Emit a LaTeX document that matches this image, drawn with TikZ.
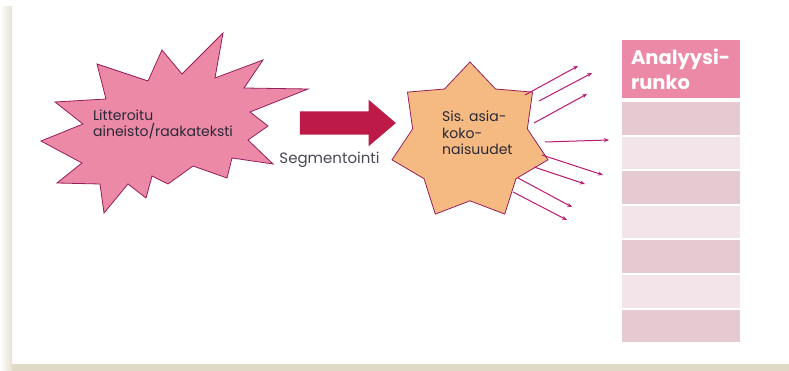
\documentclass[tikz,border=0pt]{standalone}
\usepackage{fontspec}
\setmainfont{Poppins}
\usepackage{tikz}
\usepackage{xcolor}
\usetikzlibrary{positioning, arrows.meta, shapes.geometric, shapes.arrows}
\definecolor{burstpink}{RGB}{236, 137, 166}
\definecolor{burstline}{RGB}{150, 30, 90}
\definecolor{segred}{RGB}{190, 26, 72}
\definecolor{asiaorange}{RGB}{245, 186, 130}
\definecolor{rayline}{RGB}{185, 25, 115}
\definecolor{rowdark}{RGB}{229, 202, 210}
\definecolor{rowlight}{RGB}{242, 228, 233}
\definecolor{slideshade}{RGB}{223, 218, 197}
\definecolor{inktext}{RGB}{40, 40, 55}
\tikzset{
    bursttext/.style={align=left, inner sep=0pt, font=\fontsize{14}{16}\selectfont, text=inktext},
    asianode/.style={star, star points=7, star point ratio=1.36, minimum size=160pt, inner sep=0pt, fill=asiaorange, draw=burstline, line width=0.8pt},
    segarrow/.style={single arrow, fill=segred, minimum height=96pt, inner xsep=0pt, inner ysep=11.5pt, single arrow head extend=11.5pt, single arrow tip angle=81},
    headcell/.style={rectangle, fill=burstpink, minimum width=118pt, minimum height=58pt, text width=100pt, align=left, inner sep=0pt, font=\fontsize{19.5}{25}\selectfont\bfseries, text=white},
    rowcell/.style={rectangle, minimum width=118pt, minimum height=32.5pt, inner sep=0pt},
    ray/.style={draw=rayline, line width=1pt, -{Stealth[length=5pt, width=4pt]}}
}

\begin{document}
\begin{tikzpicture}[x=1pt, y=-1pt]
                \useasboundingbox (0,0) rectangle (789,371);
                % Slide shadow
                \shade[left color=white, right color=slideshade!80] (0,7) rectangle (12,371);
                \fill[slideshade] (12,364) rectangle (789,371);

                % Raw material burst
                \filldraw[fill=burstpink, draw=burstline, line width=0.8pt]
                    (223,33) -- (215,78) -- (263,60) -- (244,88) -- (308,89) -- (250,112)
                    -- (268,126) -- (248,140) -- (273,164) -- (232,158) -- (227,178)
                    -- (193,166) -- (168,184) -- (152,176) -- (146,198) -- (128,184)
                    -- (104,213) -- (100,184) -- (57,183) -- (82,163) -- (41,141)
                    -- (83,124) -- (55,102) -- (106,99) -- (97,64) -- (148,81)
                    -- (162,50) -- (182,74) -- cycle;
                \node[bursttext, anchor=west] (litt) at (93,124) {Litteroitu\\aineisto/raakateksti};

                % Segmentation step
                \node[segarrow] (seg) at (341,123) {};
                \node[font=\fontsize{15}{17}\selectfont, text=inktext!85, inner sep=0pt] (segtxt) at (329.5,160) {Segmentointi};

                % Content units
                \node[asianode] (asia) at (470,142) {};
                \node[bursttext, anchor=west, font=\fontsize{14}{16.5}\selectfont] (asiatxt) at (442,133) {Sis. asia-\\koko-\\naisuudet};

                % Analysis frame
                \node[headcell] (runko) at (681,69) {Analyysi-\\runko};
                \node[rowcell, fill=rowdark, below=3.7pt of runko] (row1) {};
                \foreach \i/\c in {2/rowlight, 3/rowdark, 4/rowlight, 5/rowdark, 6/rowlight, 7/rowdark} {
                    \pgfmathtruncatemacro\j{\i-1}
                    \node[rowcell, fill=\c, below=1.7pt of row\j] (row\i) {};
                }

                % Rays towards the frame
                \foreach \i/\sx/\sy/\ex/\ey in {1/525/95/578/66, 2/539/101/592/73, 3/534/123/587/94, 4/545/142/609/140,
                                               5/542/155/603/175, 6/534/167/585/184, 7/518/178/572/207, 8/513/192/567/220} {
                    \coordinate (rs\i) at (\sx,\sy);
                    \coordinate (re\i) at (\ex,\ey);
                    \draw[ray] (rs\i) -- (re\i);
                }
            \end{tikzpicture}
\end{document}
